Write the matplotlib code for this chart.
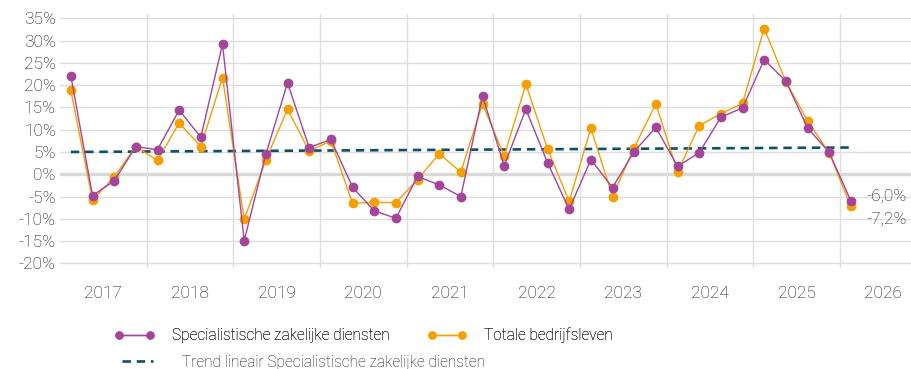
import matplotlib
matplotlib.use("Agg")
import matplotlib.pyplot as plt
from matplotlib.lines import Line2D
import numpy as np

plt.rcParams['font.family'] = ['Roboto', 'DejaVu Sans']
plt.rcParams['font.weight'] = 'light'

# Quarterly year-on-year change, 2017 Q1 .. 2026 Q1
years = [2017, 2018, 2019, 2020, 2021, 2022, 2023, 2024, 2025, 2026]
specialistisch = [
    22.1, -4.8, -1.5, 6.2,
    5.5, 14.4, 8.3, 29.2,
    -14.9, 4.5, 20.5, 6.0,
    7.8, -2.9, -8.2, -9.9,
    -0.5, -2.4, -5.0, 17.6,
    1.9, 14.6, 2.6, -7.9,
    3.3, -3.0, 5.1, 10.5,
    1.8, 4.8, 12.8, 14.9,
    25.7, 20.9, 10.4, 4.9,
    -6.0,
]
totaal = [
    18.8, -5.8, -0.6, 6.2,
    3.1, 11.5, 6.2, 21.7,
    -10.1, 3.2, 14.6, 5.2,
    7.5, -6.5, -6.3, -6.4,
    -1.2, 4.6, 0.5, 15.8,
    4.1, 20.2, 5.7, -6.1,
    10.3, -5.0, 6.0, 15.8,
    0.5, 10.9, 13.6, 15.9,
    32.7, 20.8, 12.0, 4.8,
    -7.2,
]
# linear trend (long-run fit), value at first and last quarter
trend_ends = [5.0, 6.0]
yticks = list(range(-20, 40, 5))

PURPLE = '#A4449B'
ORANGE = '#F59F00'
TEAL = '#0E4F69'
GRID = '#DEDEDE'
TXT = '#111111'
FS = 12.5
LFS = 11.2

x = np.arange(len(specialistisch))

fig = plt.figure(figsize=(9.12, 3.69), dpi=100)
ax = fig.add_axes([60 / 912, 101 / 369, 866.7 / 912, 254 / 369])

dash = (0, (3.2, 2.2))
ax.plot([x[0], x[-1]], trend_ends, color=TEAL, lw=1.9, ls=dash, zorder=2)
ax.plot(x, totaal, color=ORANGE, lw=1.0, marker='o', ms=6, zorder=3)
ax.plot(x, specialistisch, color=PURPLE, lw=1.0, marker='o', ms=6, zorder=4)

# last values written next to the final points
ax.annotate(f"{specialistisch[-1]:.1f}".replace('.', ',') + '%',
            (x[-1], specialistisch[-1]), xytext=(11, 3.5), textcoords='offset points',
            va='center', ha='left', fontsize=FS, color=TXT)
ax.annotate(f"{totaal[-1]:.1f}".replace('.', ',') + '%',
            (x[-1], totaal[-1]), xytext=(11, -9.5), textcoords='offset points',
            va='center', ha='left', fontsize=FS, color=TXT)

ax.set_xlim(-0.5, 4 * len(years) - 0.5)
ax.set_ylim(-21.05, 35.97)

for y in yticks:
    if y == 0:
        ax.axhline(0, color='#D9D9D9', lw=2.4, zorder=1)
    else:
        ax.axhline(y, color=GRID, lw=1.0, zorder=1)
for k in range(1, len(years)):
    ax.axvline(4 * k - 0.5, color=GRID, lw=1.0, zorder=1)

ax.set_yticks(yticks)
ax.set_yticklabels([f"{v}%" for v in yticks])
ax.set_xticks([4 * k + 1.5 for k in range(len(years))])
ax.set_xticklabels([str(y) for y in years])
ax.tick_params(axis='both', length=0, labelsize=FS, colors=TXT)
ax.tick_params(axis='x', pad=13)
ax.tick_params(axis='y', pad=3)
for s in ax.spines.values():
    s.set_visible(False)

# legend: two series on the first row, trend on its own row below
leg_kw = dict(numpoints=2, frameon=False, loc='upper left', borderpad=0,
              handlelength=2.56, fontsize=LFS, labelcolor=TXT)
leg1 = fig.legend(
    [Line2D([], [], color=PURPLE, lw=1.0, marker='o', ms=5),
     Line2D([], [], color=ORANGE, lw=1.0, marker='o', ms=5)],
    ['Specialistische zakelijke diensten', 'Totale bedrijfsleven'],
    ncol=2, handletextpad=1.09, columnspacing=2.45,
    bbox_to_anchor=(107 / 912, 1 - 320 / 369), **leg_kw)
fig.add_artist(leg1)
fig.legend(
    [Line2D([], [], color=TEAL, lw=1.9, ls=dash)],
    ['Trend lineair Specialistische zakelijke diensten'],
    handletextpad=1.54,
    bbox_to_anchor=(110 / 912, 1 - 347 / 369), **leg_kw)

fig.savefig('out.png', dpi=100)
